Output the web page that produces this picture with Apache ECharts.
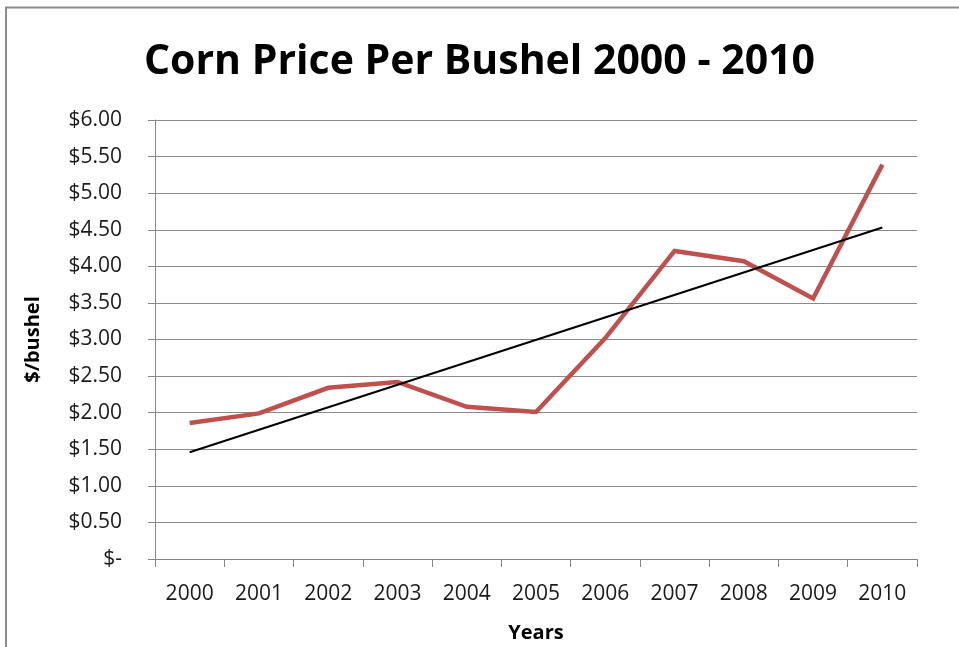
<!DOCTYPE html>
<html>
<head>
<meta charset="utf-8">
<script src="https://cdn.jsdelivr.net/npm/echarts@6/dist/echarts.min.js"></script>
<style>
html,body{margin:0;padding:0;background:#fff;}
#chart{width:959px;height:647px;}
</style>
</head>
<body>
<div id="chart"></div>
<script>
const years = ['2000','2001','2002','2003','2004','2005','2006','2007','2008','2009','2010'];
const prices = [1.86, 1.99, 2.34, 2.42, 2.08, 2.01, 3.02, 4.21, 4.07, 3.56, 5.39];
const trend = [1.46, null, null, null, null, null, null, null, null, null, 4.53];
const yTickLabels = ['$-','$0.50','$1.00','$1.50','$2.00','$2.50','$3.00','$3.50','$4.00','$4.50','$5.00','$5.50','$6.00'];

const FONT = '"Open Sans", sans-serif';
const chart = echarts.init(document.getElementById('chart'), null, {renderer:'canvas'});
chart.setOption({
  animation:false,
  backgroundColor:'#fff',
  title:{
    text:'Corn Price Per Bushel 2000 - 2010',
    left:'center', top:37,
    textStyle:{fontFamily:FONT, fontWeight:'bold', fontSize:41, color:'#000'}
  },
  graphic:[{
    type:'polyline',
    shape:{points:[[6,647],[6,7.5],[959,7.5]]},
    style:{stroke:'#8c8c8c', lineWidth:2, fill:null}
  }],
  grid:{left:155, right:42, top:120, bottom:88, containLabel:false, outerBoundsMode:'none'},
  xAxis:{
    type:'category', data:years, boundaryGap:true,
    axisLine:{lineStyle:{color:'#868686', width:1}},
    axisTick:{show:true, alignWithLabel:false, length:8, lineStyle:{color:'#868686'}},
    axisLabel:{fontFamily:FONT, fontSize:21, color:'#1a1a1a', margin:25},
    name:'Years', nameLocation:'middle', nameGap:64,
    nameTextStyle:{fontFamily:FONT, fontSize:20, fontWeight:'bold', color:'#000'}
  },
  yAxis:{
    type:'value', min:0, max:6, interval:0.5,
    axisLine:{show:true, lineStyle:{color:'#868686', width:1}},
    axisTick:{show:true, inside:false, length:7, lineStyle:{color:'#868686'}},
    splitLine:{show:true, lineStyle:{color:'#8a8a8a', width:1}},
    axisLabel:{
      fontFamily:FONT, fontSize:21, color:'#1a1a1a', margin:33,
      formatter:function(v){ return yTickLabels[Math.round(v/0.5)]; }
    },
    name:'$/bushel', nameLocation:'middle', nameGap:112, nameRotate:90,
    nameTextStyle:{fontFamily:FONT, fontSize:20, fontWeight:'bold', color:'#000'}
  },
  series:[
    {
      type:'line', data:prices, symbol:'none',
      lineStyle:{color:'#C0504D', width:4.5, join:'miter'},
      z:2
    },
    {
      type:'line', data:trend, symbol:'none', connectNulls:true,
      lineStyle:{color:'#000', width:2},
      z:3
    }
  ]
});
</script>
</body>
</html>
